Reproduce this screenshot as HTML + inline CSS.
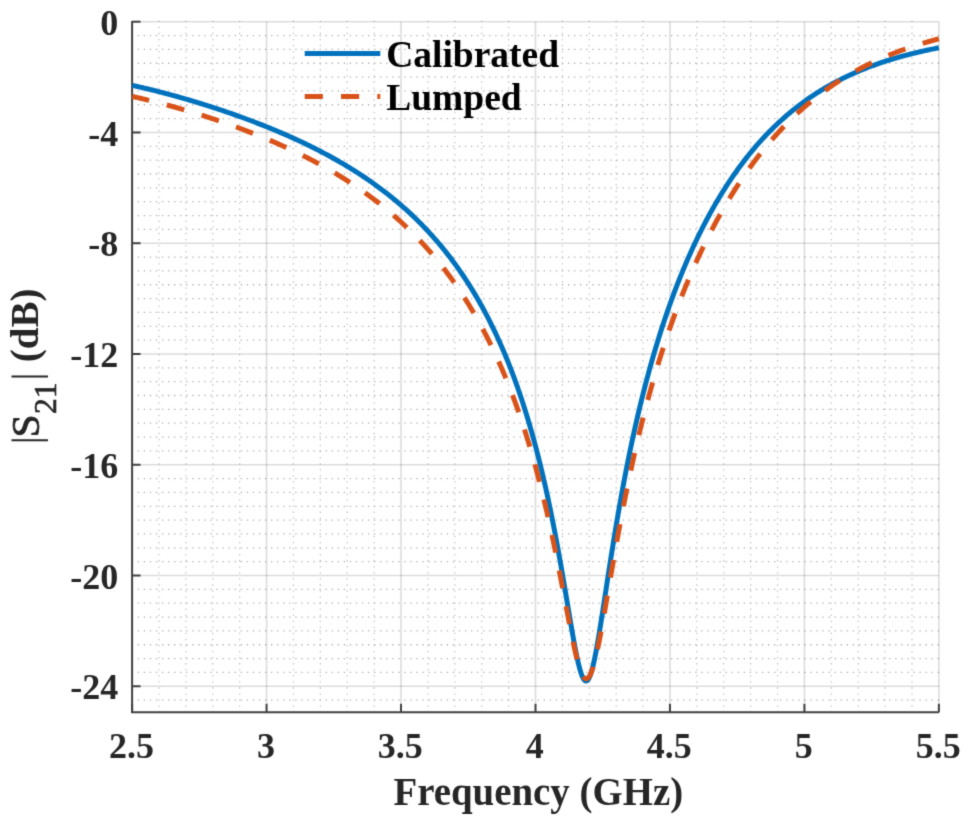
<!DOCTYPE html>
<html><head><meta charset="utf-8"><style>
html,body{margin:0;padding:0;background:#fff;width:968px;height:821px;overflow:hidden}
svg{display:block}
</style></head><body>
<svg width="968" height="821" viewBox="0 0 968 821">
<defs><filter id="soft" color-interpolation-filters="sRGB" x="0" y="0" width="100%" height="100%" filterUnits="userSpaceOnUse"><feConvolveMatrix order="3" kernelMatrix="0.01917 0.10012 0.01917 0.10012 0.52283 0.10012 0.01917 0.10012 0.01917" edgeMode="duplicate" preserveAlpha="true"/></filter></defs>
<rect width="968" height="821" fill="#fff"/>
<g filter="url(#soft)">
<rect width="968" height="821" fill="#fff"/>
<g stroke="#c2c2c2" stroke-width="1.3" stroke-dasharray="1.3 4.76" fill="none"><line x1="158.99" y1="20.75" x2="158.99" y2="712.3"/><line x1="185.89" y1="20.75" x2="185.89" y2="712.3"/><line x1="212.78" y1="20.75" x2="212.78" y2="712.3"/><line x1="239.67" y1="20.75" x2="239.67" y2="712.3"/><line x1="293.46" y1="20.75" x2="293.46" y2="712.3"/><line x1="320.35" y1="20.75" x2="320.35" y2="712.3"/><line x1="347.24" y1="20.75" x2="347.24" y2="712.3"/><line x1="374.14" y1="20.75" x2="374.14" y2="712.3"/><line x1="427.92" y1="20.75" x2="427.92" y2="712.3"/><line x1="454.82" y1="20.75" x2="454.82" y2="712.3"/><line x1="481.71" y1="20.75" x2="481.71" y2="712.3"/><line x1="508.60" y1="20.75" x2="508.60" y2="712.3"/><line x1="562.39" y1="20.75" x2="562.39" y2="712.3"/><line x1="589.28" y1="20.75" x2="589.28" y2="712.3"/><line x1="616.17" y1="20.75" x2="616.17" y2="712.3"/><line x1="643.07" y1="20.75" x2="643.07" y2="712.3"/><line x1="696.85" y1="20.75" x2="696.85" y2="712.3"/><line x1="723.75" y1="20.75" x2="723.75" y2="712.3"/><line x1="750.64" y1="20.75" x2="750.64" y2="712.3"/><line x1="777.53" y1="20.75" x2="777.53" y2="712.3"/><line x1="831.32" y1="20.75" x2="831.32" y2="712.3"/><line x1="858.21" y1="20.75" x2="858.21" y2="712.3"/><line x1="885.10" y1="20.75" x2="885.10" y2="712.3"/><line x1="912.00" y1="20.75" x2="912.00" y2="712.3"/></g>
<g stroke="#b0b0b0" stroke-width="1.3" stroke-dasharray="1.3 4.76" fill="none"><line x1="131.65" y1="35.55" x2="938.89" y2="35.55"/><line x1="131.65" y1="49.39" x2="938.89" y2="49.39"/><line x1="131.65" y1="63.23" x2="938.89" y2="63.23"/><line x1="131.65" y1="77.08" x2="938.89" y2="77.08"/><line x1="131.65" y1="90.93" x2="938.89" y2="90.93"/><line x1="131.65" y1="104.77" x2="938.89" y2="104.77"/><line x1="131.65" y1="118.62" x2="938.89" y2="118.62"/><line x1="131.65" y1="146.31" x2="938.89" y2="146.31"/><line x1="131.65" y1="160.15" x2="938.89" y2="160.15"/><line x1="131.65" y1="174.00" x2="938.89" y2="174.00"/><line x1="131.65" y1="187.84" x2="938.89" y2="187.84"/><line x1="131.65" y1="201.69" x2="938.89" y2="201.69"/><line x1="131.65" y1="215.53" x2="938.89" y2="215.53"/><line x1="131.65" y1="229.38" x2="938.89" y2="229.38"/><line x1="131.65" y1="257.06" x2="938.89" y2="257.06"/><line x1="131.65" y1="270.91" x2="938.89" y2="270.91"/><line x1="131.65" y1="284.75" x2="938.89" y2="284.75"/><line x1="131.65" y1="298.60" x2="938.89" y2="298.60"/><line x1="131.65" y1="312.44" x2="938.89" y2="312.44"/><line x1="131.65" y1="326.29" x2="938.89" y2="326.29"/><line x1="131.65" y1="340.13" x2="938.89" y2="340.13"/><line x1="131.65" y1="367.82" x2="938.89" y2="367.82"/><line x1="131.65" y1="381.67" x2="938.89" y2="381.67"/><line x1="131.65" y1="395.51" x2="938.89" y2="395.51"/><line x1="131.65" y1="409.36" x2="938.89" y2="409.36"/><line x1="131.65" y1="423.20" x2="938.89" y2="423.20"/><line x1="131.65" y1="437.05" x2="938.89" y2="437.05"/><line x1="131.65" y1="450.89" x2="938.89" y2="450.89"/><line x1="131.65" y1="478.59" x2="938.89" y2="478.59"/><line x1="131.65" y1="492.43" x2="938.89" y2="492.43"/><line x1="131.65" y1="506.28" x2="938.89" y2="506.28"/><line x1="131.65" y1="520.12" x2="938.89" y2="520.12"/><line x1="131.65" y1="533.97" x2="938.89" y2="533.97"/><line x1="131.65" y1="547.81" x2="938.89" y2="547.81"/><line x1="131.65" y1="561.66" x2="938.89" y2="561.66"/><line x1="131.65" y1="589.35" x2="938.89" y2="589.35"/><line x1="131.65" y1="603.19" x2="938.89" y2="603.19"/><line x1="131.65" y1="617.04" x2="938.89" y2="617.04"/><line x1="131.65" y1="630.88" x2="938.89" y2="630.88"/><line x1="131.65" y1="644.73" x2="938.89" y2="644.73"/><line x1="131.65" y1="658.57" x2="938.89" y2="658.57"/><line x1="131.65" y1="672.42" x2="938.89" y2="672.42"/><line x1="131.65" y1="700.11" x2="938.89" y2="700.11"/></g>
<g stroke="#262626" stroke-opacity="0.16" stroke-width="1.6" fill="none"><line x1="266.56" y1="21.7" x2="266.56" y2="712.3"/><line x1="401.03" y1="21.7" x2="401.03" y2="712.3"/><line x1="535.50" y1="21.7" x2="535.50" y2="712.3"/><line x1="669.96" y1="21.7" x2="669.96" y2="712.3"/><line x1="804.43" y1="21.7" x2="804.43" y2="712.3"/><line x1="938.89" y1="21.7" x2="938.89" y2="712.3"/><line x1="132.1" y1="21.70" x2="938.89" y2="21.70"/><line x1="132.1" y1="132.46" x2="938.89" y2="132.46"/><line x1="132.1" y1="243.22" x2="938.89" y2="243.22"/><line x1="132.1" y1="353.98" x2="938.89" y2="353.98"/><line x1="132.1" y1="464.74" x2="938.89" y2="464.74"/><line x1="132.1" y1="575.50" x2="938.89" y2="575.50"/><line x1="132.1" y1="686.26" x2="938.89" y2="686.26"/></g>
<g stroke="#404040" stroke-width="2" fill="none"><line x1="132.1" y1="20.9" x2="132.1" y2="713.0999999999999"/><line x1="131.29999999999998" y1="712.3" x2="938.89" y2="712.3"/><line x1="132.1" y1="21.70" x2="140.6" y2="21.70"/><line x1="132.1" y1="132.46" x2="140.6" y2="132.46"/><line x1="132.1" y1="243.22" x2="140.6" y2="243.22"/><line x1="132.1" y1="353.98" x2="140.6" y2="353.98"/><line x1="132.1" y1="464.74" x2="140.6" y2="464.74"/><line x1="132.1" y1="575.50" x2="140.6" y2="575.50"/><line x1="132.1" y1="686.26" x2="140.6" y2="686.26"/><line x1="132.10" y1="712.3" x2="132.10" y2="703.8"/><line x1="266.56" y1="712.3" x2="266.56" y2="703.8"/><line x1="401.03" y1="712.3" x2="401.03" y2="703.8"/><line x1="535.50" y1="712.3" x2="535.50" y2="703.8"/><line x1="669.96" y1="712.3" x2="669.96" y2="703.8"/><line x1="804.43" y1="712.3" x2="804.43" y2="703.8"/><line x1="938.89" y1="712.3" x2="938.89" y2="703.8"/></g>
<path d="M132.10,85.30 L133.44,85.60 L134.79,85.90 L136.13,86.20 L137.48,86.51 L138.82,86.82 L140.17,87.13 L141.51,87.44 L142.86,87.75 L144.20,88.07 L145.55,88.39 L146.89,88.72 L148.24,89.04 L149.58,89.37 L150.93,89.70 L152.27,90.03 L153.61,90.36 L154.96,90.70 L156.30,91.04 L157.65,91.38 L158.99,91.73 L160.34,92.07 L161.68,92.42 L163.03,92.77 L164.37,93.12 L165.72,93.48 L167.06,93.84 L168.41,94.20 L169.75,94.56 L171.09,94.92 L172.44,95.29 L173.78,95.66 L175.13,96.03 L176.47,96.40 L177.82,96.78 L179.16,97.16 L180.51,97.54 L181.85,97.92 L183.20,98.30 L184.54,98.69 L185.89,99.08 L187.23,99.47 L188.58,99.87 L189.92,100.26 L191.26,100.66 L192.61,101.06 L193.95,101.46 L195.30,101.87 L196.64,102.28 L197.99,102.68 L199.33,103.10 L200.68,103.51 L202.02,103.93 L203.37,104.35 L204.71,104.77 L206.06,105.19 L207.40,105.61 L208.75,106.04 L210.09,106.47 L211.43,106.90 L212.78,107.34 L214.12,107.78 L215.47,108.21 L216.81,108.66 L218.16,109.10 L219.50,109.55 L220.85,110.00 L222.19,110.45 L223.54,110.90 L224.88,111.36 L226.23,111.81 L227.57,112.27 L228.91,112.74 L230.26,113.20 L231.60,113.67 L232.95,114.14 L234.29,114.61 L235.64,115.09 L236.98,115.57 L238.33,116.05 L239.67,116.53 L241.02,117.02 L242.36,117.50 L243.71,118.00 L245.05,118.49 L246.40,118.98 L247.74,119.48 L249.08,119.98 L250.43,120.49 L251.77,121.00 L253.12,121.51 L254.46,122.02 L255.81,122.53 L257.15,123.05 L258.50,123.57 L259.84,124.10 L261.19,124.62 L262.53,125.15 L263.88,125.69 L265.22,126.22 L266.56,126.76 L267.91,127.30 L269.25,127.85 L270.60,128.40 L271.94,128.95 L273.29,129.50 L274.63,130.06 L275.98,130.62 L277.32,131.19 L278.67,131.76 L280.01,132.33 L281.36,132.90 L282.70,133.48 L284.05,134.06 L285.39,134.65 L286.73,135.24 L288.08,135.83 L289.42,136.42 L290.77,137.02 L292.11,137.63 L293.46,138.24 L294.80,138.85 L296.15,139.46 L297.49,140.08 L298.84,140.71 L300.18,141.33 L301.53,141.96 L302.87,142.60 L304.22,143.24 L305.56,143.88 L306.90,144.53 L308.25,145.19 L309.59,145.84 L310.94,146.50 L312.28,147.17 L313.63,147.84 L314.97,148.52 L316.32,149.20 L317.66,149.88 L319.01,150.57 L320.35,151.27 L321.70,151.97 L323.04,152.67 L324.38,153.38 L325.73,154.10 L327.07,154.82 L328.42,155.54 L329.76,156.27 L331.11,157.01 L332.45,157.75 L333.80,158.50 L335.14,159.25 L336.49,160.01 L337.83,160.78 L339.18,161.55 L340.52,162.33 L341.87,163.11 L343.21,163.90 L344.55,164.70 L345.90,165.50 L347.24,166.31 L348.59,167.12 L349.93,167.94 L351.28,168.77 L352.62,169.61 L353.97,170.45 L355.31,171.30 L356.66,172.15 L358.00,173.02 L359.35,173.89 L360.69,174.77 L362.04,175.65 L363.38,176.55 L364.72,177.45 L366.07,178.36 L367.41,179.27 L368.76,180.20 L370.10,181.13 L371.45,182.07 L372.79,183.02 L374.14,183.98 L375.48,184.95 L376.83,185.93 L378.17,186.91 L379.52,187.91 L380.86,188.91 L382.20,189.92 L383.55,190.95 L384.89,191.98 L386.24,193.02 L387.58,194.07 L388.93,195.13 L390.27,196.21 L391.62,197.29 L392.96,198.38 L394.31,199.49 L395.65,200.60 L397.00,201.73 L398.34,202.86 L399.69,204.01 L401.03,205.17 L402.37,206.35 L403.72,207.53 L405.06,208.73 L406.41,209.94 L407.75,211.16 L409.10,212.39 L410.44,213.64 L411.79,214.90 L413.13,216.17 L414.48,217.46 L415.82,218.76 L417.17,220.08 L418.51,221.41 L419.86,222.75 L421.20,224.11 L422.54,225.48 L423.89,226.87 L425.23,228.28 L426.58,229.70 L427.92,231.14 L429.27,232.59 L430.61,234.06 L431.96,235.55 L433.30,237.05 L434.65,238.57 L435.99,240.11 L437.34,241.67 L438.68,243.25 L440.02,244.85 L441.37,246.46 L442.71,248.10 L444.06,249.75 L445.40,251.43 L446.75,253.12 L448.09,254.84 L449.44,256.58 L450.78,258.34 L452.13,260.13 L453.47,261.93 L454.82,263.76 L456.16,265.62 L457.51,267.49 L458.85,269.40 L460.19,271.32 L461.54,273.28 L462.88,275.26 L464.23,277.26 L465.57,279.30 L466.92,281.36 L468.26,283.45 L469.61,285.57 L470.95,287.72 L472.30,289.90 L473.64,292.12 L474.99,294.36 L476.33,296.64 L477.68,298.95 L479.02,301.29 L480.36,303.67 L481.71,306.08 L483.05,308.53 L484.40,311.02 L485.74,313.55 L487.09,316.12 L488.43,318.72 L489.78,321.37 L491.12,324.06 L492.47,326.80 L493.81,329.57 L495.16,332.40 L496.50,335.27 L497.84,338.18 L499.19,341.15 L500.53,344.17 L501.88,347.24 L503.22,350.36 L504.57,353.54 L505.91,356.77 L507.26,360.07 L508.60,363.42 L508.60,363.42 L508.87,364.10 L509.14,364.78 L509.41,365.46 L509.68,366.14 L509.95,366.83 L509.95,366.83 L510.22,367.52 L510.48,368.21 L510.75,368.91 L511.02,369.61 L511.29,370.31 L511.29,370.31 L511.56,371.01 L511.83,371.72 L512.10,372.42 L512.37,373.13 L512.64,373.85 L512.90,374.56 L513.17,375.28 L513.44,376.00 L513.71,376.73 L513.98,377.45 L514.25,378.18 L514.52,378.92 L514.79,379.65 L515.06,380.39 L515.33,381.13 L515.59,381.87 L515.86,382.62 L516.13,383.37 L516.40,384.12 L516.67,384.88 L516.94,385.64 L517.21,386.40 L517.48,387.16 L517.75,387.93 L518.01,388.70 L518.28,389.47 L518.55,390.25 L518.82,391.02 L519.09,391.81 L519.36,392.59 L519.63,393.38 L519.90,394.17 L520.17,394.97 L520.43,395.76 L520.70,396.56 L520.70,396.56 L520.97,397.37 L521.24,398.17 L521.51,398.99 L521.78,399.80 L522.05,400.62 L522.05,400.62 L522.32,401.44 L522.59,402.26 L522.86,403.09 L523.12,403.92 L523.39,404.75 L523.66,405.59 L523.93,406.43 L524.20,407.27 L524.47,408.12 L524.74,408.97 L525.01,409.82 L525.28,410.68 L525.54,411.54 L525.81,412.41 L526.08,413.28 L526.35,414.15 L526.62,415.02 L526.89,415.90 L527.16,416.79 L527.43,417.67 L527.70,418.56 L527.96,419.46 L528.23,420.36 L528.50,421.26 L528.77,422.16 L529.04,423.07 L529.31,423.99 L529.58,424.90 L529.85,425.82 L530.12,426.75 L530.39,427.68 L530.65,428.61 L530.92,429.55 L531.19,430.49 L531.46,431.44 L531.46,431.44 L531.73,432.38 L532.00,433.34 L532.27,434.30 L532.54,435.26 L532.81,436.22 L532.81,436.22 L533.07,437.19 L533.34,438.17 L533.61,439.15 L533.88,440.13 L534.15,441.12 L534.42,442.11 L534.69,443.11 L534.96,444.11 L535.23,445.11 L535.50,446.12 L535.76,447.13 L536.03,448.15 L536.30,449.18 L536.57,450.20 L536.84,451.24 L537.11,452.27 L537.38,453.31 L537.65,454.36 L537.92,455.41 L538.18,456.47 L538.45,457.53 L538.72,458.59 L538.99,459.66 L539.26,460.74 L539.53,461.82 L539.53,461.82 L539.80,462.90 L540.07,463.99 L540.34,465.09 L540.60,466.19 L540.87,467.29 L541.14,468.40 L541.41,469.52 L541.68,470.64 L541.95,471.76 L542.22,472.89 L542.49,474.03 L542.76,475.17 L543.03,476.32 L543.29,477.47 L543.56,478.62 L543.83,479.79 L544.10,480.95 L544.37,482.13 L544.64,483.31 L544.91,484.49 L545.18,485.68 L545.45,486.87 L545.71,488.08 L545.98,489.28 L546.25,490.49 L546.52,491.71 L546.79,492.93 L547.06,494.16 L547.33,495.40 L547.60,496.64 L547.87,497.88 L548.13,499.13 L548.40,500.39 L548.67,501.66 L548.94,502.92 L549.21,504.20 L549.48,505.48 L549.75,506.77 L550.02,508.06 L550.29,509.36 L550.56,510.66 L550.82,511.97 L551.09,513.29 L551.36,514.61 L551.63,515.94 L551.63,515.94 L551.90,517.28 L552.17,518.62 L552.44,519.96 L552.71,521.32 L552.98,522.68 L553.24,524.04 L553.51,525.41 L553.78,526.79 L554.05,528.17 L554.32,529.56 L554.59,530.96 L554.86,532.36 L555.13,533.76 L555.40,535.18 L555.66,536.60 L555.93,538.02 L556.20,539.45 L556.47,540.89 L556.74,542.33 L557.01,543.78 L557.28,545.24 L557.55,546.70 L557.82,548.16 L558.09,549.64 L558.35,551.11 L558.62,552.60 L558.89,554.09 L559.16,555.58 L559.43,557.08 L559.70,558.59 L559.97,560.10 L560.24,561.61 L560.51,563.14 L560.77,564.66 L561.04,566.19 L561.31,567.73 L561.58,569.27 L561.85,570.82 L562.12,572.37 L562.39,573.92 L562.66,575.48 L562.93,577.05 L563.19,578.61 L563.46,580.19 L563.73,581.76 L563.73,581.76 L564.00,583.34 L564.27,584.92 L564.54,586.51 L564.81,588.09 L565.08,589.69 L565.35,591.28 L565.62,592.88 L565.88,594.47 L566.15,596.07 L566.42,597.67 L566.69,599.28 L566.96,600.88 L567.23,602.48 L567.50,604.09 L567.77,605.69 L568.04,607.30 L568.30,608.90 L568.57,610.50 L568.84,612.10 L569.11,613.70 L569.38,615.30 L569.65,616.89 L569.92,618.48 L570.19,620.07 L570.46,621.65 L570.72,623.23 L570.99,624.80 L571.26,626.37 L571.53,627.93 L571.80,629.48 L572.07,631.03 L572.34,632.57 L572.61,634.10 L572.88,635.62 L573.15,637.13 L573.15,637.13 L573.41,638.63 L573.68,640.11 L573.95,641.59 L574.22,643.05 L574.49,644.50 L574.76,645.93 L575.03,647.35 L575.30,648.75 L575.57,650.13 L575.83,651.50 L576.10,652.85 L576.37,654.17 L576.64,655.48 L576.91,656.77 L577.18,658.03 L577.45,659.27 L577.72,660.48 L577.99,661.67 L578.25,662.83 L578.52,663.97 L578.79,665.08 L579.06,666.15 L579.33,667.20 L579.60,668.22 L579.87,669.20 L580.14,670.15 L580.41,671.07 L580.68,671.95 L580.94,672.79 L581.21,673.60 L581.48,674.37 L581.75,675.10 L582.02,675.79 L582.29,676.44 L582.56,677.06 L582.83,677.62 L583.10,678.15 L583.36,678.63 L583.63,679.07 L583.90,679.47 L584.17,679.82 L584.44,680.12 L584.71,680.38 L584.98,680.59 L585.25,680.76 L585.25,680.76 L585.52,680.88 L585.78,680.95 L586.05,680.97 L586.32,680.95 L586.59,680.88 L586.59,680.88 L586.86,680.76 L587.13,680.59 L587.40,680.38 L587.67,680.12 L587.94,679.81 L588.21,679.46 L588.47,679.06 L588.74,678.61 L589.01,678.12 L589.28,677.58 L589.55,677.00 L589.82,676.37 L590.09,675.70 L590.36,674.99 L590.63,674.24 L590.89,673.44 L591.16,672.60 L591.43,671.73 L591.70,670.81 L591.97,669.86 L592.24,668.87 L592.51,667.84 L592.78,666.78 L593.05,665.68 L593.31,664.55 L593.58,663.39 L593.85,662.20 L594.12,660.97 L594.39,659.72 L594.66,658.43 L594.93,657.12 L595.20,655.78 L595.47,654.42 L595.74,653.03 L596.00,651.62 L596.27,650.18 L596.54,648.72 L596.81,647.25 L597.08,645.75 L597.35,644.23 L597.62,642.69 L597.89,641.14 L598.16,639.57 L598.42,637.98 L598.69,636.38 L598.96,634.77 L599.23,633.14 L599.50,631.50 L599.77,629.85 L600.04,628.18 L600.31,626.51 L600.58,624.82 L600.84,623.13 L601.11,621.43 L601.38,619.72 L601.65,618.00 L601.92,616.28 L602.19,614.55 L602.46,612.82 L602.73,611.08 L603.00,609.34 L603.27,607.59 L603.53,605.84 L603.80,604.09 L604.07,602.33 L604.34,600.57 L604.61,598.82 L604.88,597.06 L605.15,595.29 L605.42,593.53 L605.69,591.77 L605.95,590.01 L606.22,588.25 L606.49,586.49 L606.76,584.73 L606.76,584.73 L607.03,582.97 L607.30,581.22 L607.57,579.47 L607.84,577.72 L608.11,575.97 L608.38,574.22 L608.64,572.48 L608.91,570.74 L609.18,569.00 L609.45,567.27 L609.72,565.54 L609.99,563.82 L610.26,562.09 L610.53,560.38 L610.80,558.66 L611.06,556.96 L611.33,555.25 L611.60,553.55 L611.87,551.86 L612.14,550.17 L612.41,548.49 L612.68,546.81 L612.95,545.14 L613.22,543.47 L613.48,541.80 L613.75,540.15 L614.02,538.49 L614.29,536.85 L614.56,535.21 L614.83,533.57 L615.10,531.94 L615.37,530.32 L615.64,528.70 L615.91,527.09 L616.17,525.49 L616.44,523.89 L616.71,522.29 L616.98,520.71 L617.25,519.12 L617.52,517.55 L617.79,515.98 L618.06,514.42 L618.33,512.86 L618.59,511.31 L618.86,509.76 L618.86,509.76 L619.13,508.22 L619.40,506.69 L619.67,505.16 L619.94,503.64 L620.21,502.13 L620.21,502.13 L620.48,500.62 L620.75,499.12 L621.01,497.62 L621.28,496.14 L621.55,494.65 L621.82,493.17 L622.09,491.70 L622.36,490.24 L622.63,488.78 L622.90,487.33 L623.17,485.88 L623.44,484.44 L623.70,483.00 L623.97,481.57 L624.24,480.15 L624.51,478.73 L624.78,477.32 L625.05,475.92 L625.32,474.52 L625.59,473.12 L625.86,471.74 L626.12,470.36 L626.39,468.98 L626.66,467.61 L626.93,466.25 L627.20,464.89 L627.47,463.53 L627.74,462.19 L628.01,460.84 L628.28,459.51 L628.54,458.18 L628.81,456.85 L629.08,455.53 L629.35,454.22 L629.62,452.91 L629.89,451.61 L630.16,450.31 L630.43,449.02 L630.70,447.73 L630.97,446.45 L631.23,445.18 L631.50,443.90 L631.77,442.64 L632.04,441.38 L632.31,440.12 L632.58,438.87 L632.85,437.63 L633.12,436.39 L633.39,435.16 L633.65,433.93 L633.92,432.70 L634.19,431.48 L634.46,430.27 L634.73,429.06 L635.00,427.85 L635.27,426.65 L635.54,425.46 L635.81,424.27 L636.07,423.08 L636.34,421.90 L636.61,420.73 L636.88,419.56 L637.15,418.39 L637.42,417.23 L637.69,416.07 L637.96,414.92 L638.23,413.77 L638.50,412.63 L638.76,411.49 L639.03,410.36 L639.30,409.23 L639.57,408.10 L639.84,406.98 L640.11,405.87 L640.38,404.76 L640.38,404.76 L640.65,403.65 L640.92,402.55 L641.18,401.45 L641.45,400.35 L641.72,399.26 L641.99,398.18 L642.26,397.09 L642.53,396.02 L642.80,394.94 L643.07,393.87 L643.34,392.81 L643.60,391.75 L643.87,390.69 L644.14,389.64 L644.41,388.59 L644.68,387.54 L644.95,386.50 L645.22,385.46 L645.49,384.43 L645.76,383.40 L646.03,382.38 L646.29,381.35 L646.56,380.34 L646.83,379.32 L647.10,378.31 L647.37,377.31 L647.64,376.30 L647.91,375.30 L648.18,374.31 L648.45,373.32 L648.71,372.33 L648.98,371.34 L649.25,370.36 L649.52,369.39 L649.79,368.41 L650.06,367.44 L650.33,366.48 L650.60,365.51 L650.87,364.55 L651.13,363.60 L651.40,362.64 L651.67,361.69 L651.94,360.75 L652.21,359.81 L652.48,358.87 L652.75,357.93 L653.02,357.00 L653.29,356.07 L653.56,355.14 L653.82,354.22 L653.82,354.22 L654.09,353.30 L654.36,352.39 L654.63,351.47 L654.90,350.56 L655.17,349.66 L655.44,348.75 L655.71,347.85 L655.98,346.96 L656.24,346.06 L656.51,345.17 L656.78,344.28 L657.05,343.40 L657.32,342.52 L657.59,341.64 L657.86,340.76 L658.13,339.89 L658.40,339.02 L658.66,338.16 L658.93,337.29 L659.20,336.43 L659.47,335.57 L659.74,334.72 L660.01,333.87 L660.28,333.02 L660.55,332.17 L660.82,331.33 L661.09,330.49 L661.35,329.65 L661.62,328.81 L661.89,327.98 L662.16,327.15 L662.43,326.33 L662.70,325.50 L662.97,324.68 L663.24,323.86 L663.51,323.05 L663.77,322.23 L664.04,321.42 L664.31,320.62 L664.58,319.81 L664.85,319.01 L665.12,318.21 L665.39,317.41 L665.66,316.62 L665.93,315.83 L666.19,315.04 L666.46,314.25 L666.73,313.46 L667.00,312.68 L667.27,311.90 L667.54,311.13 L667.81,310.35 L668.08,309.58 L668.35,308.81 L668.62,308.04 L668.88,307.28 L669.15,306.52 L669.42,305.76 L669.69,305.00 L669.96,304.25 L671.30,300.51 L672.65,296.83 L673.99,293.21 L675.34,289.64 L676.68,286.12 L678.03,282.67 L679.37,279.26 L680.72,275.90 L682.06,272.59 L683.41,269.33 L684.75,266.12 L686.10,262.96 L687.44,259.84 L688.79,256.77 L690.13,253.74 L691.47,250.75 L692.82,247.81 L694.16,244.91 L695.51,242.05 L696.85,239.22 L698.20,236.44 L699.54,233.70 L700.89,230.99 L702.23,228.32 L703.58,225.69 L704.92,223.10 L706.27,220.53 L707.61,218.01 L708.95,215.52 L710.30,213.06 L711.64,210.63 L712.99,208.24 L714.33,205.88 L715.68,203.55 L717.02,201.25 L718.37,198.98 L719.71,196.74 L721.06,194.54 L722.40,192.36 L723.75,190.21 L725.09,188.08 L726.44,185.99 L727.78,183.92 L729.12,181.88 L730.47,179.87 L731.81,177.88 L733.16,175.92 L734.50,173.99 L735.85,172.08 L737.19,170.19 L738.54,168.33 L739.88,166.50 L741.23,164.68 L742.57,162.89 L743.92,161.13 L745.26,159.38 L746.61,157.66 L747.95,155.97 L749.29,154.29 L750.64,152.64 L751.98,151.00 L753.33,149.39 L754.67,147.80 L756.02,146.23 L757.36,144.68 L758.71,143.15 L760.05,141.64 L761.40,140.15 L762.74,138.68 L764.09,137.23 L765.43,135.79 L766.77,134.38 L768.12,132.98 L769.46,131.61 L770.81,130.25 L772.15,128.90 L773.50,127.58 L774.84,126.27 L776.19,124.98 L777.53,123.71 L778.88,122.45 L780.22,121.21 L781.57,119.98 L782.91,118.78 L784.26,117.58 L785.60,116.41 L786.94,115.24 L788.29,114.10 L789.63,112.97 L790.98,111.85 L792.32,110.75 L793.67,109.66 L795.01,108.59 L796.36,107.53 L797.70,106.48 L799.05,105.45 L800.39,104.43 L801.74,103.43 L803.08,102.44 L804.43,101.46 L805.77,100.49 L807.11,99.54 L808.46,98.60 L809.80,97.67 L811.15,96.76 L812.49,95.86 L813.84,94.96 L815.18,94.08 L816.53,93.22 L817.87,92.36 L819.22,91.52 L820.56,90.68 L821.91,89.86 L823.25,89.05 L824.59,88.25 L825.94,87.46 L827.28,86.68 L828.63,85.91 L829.97,85.15 L831.32,84.40 L832.66,83.66 L834.01,82.93 L835.35,82.21 L836.70,81.50 L838.04,80.80 L839.39,80.11 L840.73,79.43 L842.08,78.75 L843.42,78.09 L844.76,77.44 L846.11,76.79 L847.45,76.15 L848.80,75.52 L850.14,74.90 L851.49,74.29 L852.83,73.68 L854.18,73.09 L855.52,72.50 L856.87,71.92 L858.21,71.35 L859.56,70.78 L860.90,70.22 L862.24,69.67 L863.59,69.13 L864.93,68.59 L866.28,68.07 L867.62,67.54 L868.97,67.03 L870.31,66.52 L871.66,66.02 L873.00,65.53 L874.35,65.04 L875.69,64.56 L877.04,64.08 L878.38,63.61 L879.73,63.15 L881.07,62.69 L882.41,62.24 L883.76,61.80 L885.10,61.36 L886.45,60.93 L887.79,60.50 L889.14,60.08 L890.48,59.66 L891.83,59.25 L893.17,58.85 L894.52,58.45 L895.86,58.05 L897.21,57.66 L898.55,57.28 L899.90,56.90 L901.24,56.52 L902.58,56.15 L903.93,55.79 L905.27,55.43 L906.62,55.07 L907.96,54.72 L909.31,54.38 L910.65,54.04 L912.00,53.70 L913.34,53.36 L914.69,53.04 L916.03,52.71 L917.38,52.39 L918.72,52.07 L920.06,51.76 L921.41,51.45 L922.75,51.15 L924.10,50.85 L925.44,50.55 L926.79,50.26 L928.13,49.97 L929.48,49.68 L930.82,49.40 L932.17,49.12 L933.51,48.85 L934.86,48.58 L936.20,48.31 L937.55,48.04 L938.89,47.78" fill="none" stroke="#0072bd" stroke-width="5" stroke-linejoin="round"/>
<path d="M132.10,96.34 L133.44,96.65 L134.79,96.95 L136.13,97.26 L137.48,97.57 L138.82,97.89 L140.17,98.20 L141.51,98.52 L142.86,98.84 L144.20,99.17 L145.55,99.49 L146.89,99.82 L148.24,100.15 L149.58,100.48 L150.93,100.82 L152.27,101.16 L153.61,101.50 L154.96,101.84 L156.30,102.18 L157.65,102.53 L158.99,102.88 L160.34,103.23 L161.68,103.58 L163.03,103.94 L164.37,104.30 L165.72,104.66 L167.06,105.02 L168.41,105.39 L169.75,105.76 L171.09,106.13 L172.44,106.50 L173.78,106.88 L175.13,107.25 L176.47,107.63 L177.82,108.02 L179.16,108.40 L180.51,108.79 L181.85,109.18 L183.20,109.57 L184.54,109.96 L185.89,110.36 L187.23,110.76 L188.58,111.16 L189.92,111.56 L191.26,111.97 L192.61,112.38 L193.95,112.79 L195.30,113.20 L196.64,113.62 L197.99,114.04 L199.33,114.46 L200.68,114.88 L202.02,115.31 L203.37,115.73 L204.71,116.16 L206.06,116.60 L207.40,117.03 L208.75,117.47 L210.09,117.91 L211.43,118.35 L212.78,118.80 L214.12,119.24 L215.47,119.69 L216.81,120.15 L218.16,120.60 L219.50,121.06 L220.85,121.52 L222.19,121.99 L223.54,122.45 L224.88,122.92 L226.23,123.39 L227.57,123.86 L228.91,124.34 L230.26,124.82 L231.60,125.30 L232.95,125.79 L234.29,126.28 L235.64,126.77 L236.98,127.26 L238.33,127.75 L239.67,128.25 L241.02,128.76 L242.36,129.26 L243.71,129.77 L245.05,130.28 L246.40,130.79 L247.74,131.31 L249.08,131.83 L250.43,132.35 L251.77,132.88 L253.12,133.41 L254.46,133.94 L255.81,134.48 L257.15,135.01 L258.50,135.56 L259.84,136.10 L261.19,136.65 L262.53,137.20 L263.88,137.76 L265.22,138.32 L266.56,138.88 L267.91,139.44 L269.25,140.01 L270.60,140.59 L271.94,141.16 L273.29,141.74 L274.63,142.33 L275.98,142.91 L277.32,143.50 L278.67,144.10 L280.01,144.70 L281.36,145.30 L282.70,145.91 L284.05,146.52 L285.39,147.13 L286.73,147.75 L288.08,148.37 L289.42,149.00 L290.77,149.63 L292.11,150.27 L293.46,150.91 L294.80,151.55 L296.15,152.20 L297.49,152.85 L298.84,153.51 L300.18,154.17 L301.53,154.83 L302.87,155.51 L304.22,156.18 L305.56,156.86 L306.90,157.55 L308.25,158.24 L309.59,158.93 L310.94,159.63 L312.28,160.34 L313.63,161.05 L314.97,161.76 L316.32,162.48 L317.66,163.21 L319.01,163.94 L320.35,164.68 L321.70,165.42 L323.04,166.17 L324.38,166.92 L325.73,167.68 L327.07,168.44 L328.42,169.21 L329.76,169.99 L331.11,170.77 L332.45,171.56 L333.80,172.36 L335.14,173.16 L336.49,173.96 L337.83,174.78 L339.18,175.60 L340.52,176.42 L341.87,177.26 L343.21,178.10 L344.55,178.94 L345.90,179.80 L347.24,180.66 L348.59,181.52 L349.93,182.40 L351.28,183.28 L352.62,184.17 L353.97,185.06 L355.31,185.97 L356.66,186.88 L358.00,187.80 L359.35,188.73 L360.69,189.66 L362.04,190.60 L363.38,191.56 L364.72,192.51 L366.07,193.48 L367.41,194.46 L368.76,195.44 L370.10,196.44 L371.45,197.44 L372.79,198.45 L374.14,199.47 L375.48,200.50 L376.83,201.54 L378.17,202.58 L379.52,203.64 L380.86,204.71 L382.20,205.78 L383.55,206.87 L384.89,207.97 L386.24,209.08 L387.58,210.19 L388.93,211.32 L390.27,212.46 L391.62,213.61 L392.96,214.77 L394.31,215.94 L395.65,217.12 L397.00,218.32 L398.34,219.52 L399.69,220.74 L401.03,221.97 L402.37,223.21 L403.72,224.46 L405.06,225.73 L406.41,227.01 L407.75,228.30 L409.10,229.60 L410.44,230.92 L411.79,232.25 L413.13,233.60 L414.48,234.96 L415.82,236.33 L417.17,237.72 L418.51,239.12 L419.86,240.53 L421.20,241.96 L422.54,243.41 L423.89,244.87 L425.23,246.35 L426.58,247.84 L427.92,249.35 L429.27,250.88 L430.61,252.42 L431.96,253.98 L433.30,255.56 L434.65,257.16 L435.99,258.77 L437.34,260.40 L438.68,262.05 L440.02,263.72 L441.37,265.41 L442.71,267.11 L444.06,268.84 L445.40,270.59 L446.75,272.36 L448.09,274.15 L449.44,275.96 L450.78,277.79 L452.13,279.64 L453.47,281.52 L454.82,283.42 L456.16,285.34 L457.51,287.29 L458.85,289.26 L460.19,291.26 L461.54,293.28 L462.88,295.33 L464.23,297.40 L465.57,299.50 L466.92,301.63 L468.26,303.78 L469.61,305.97 L470.95,308.18 L472.30,310.42 L473.64,312.69 L474.99,315.00 L476.33,317.33 L477.68,319.70 L479.02,322.10 L480.36,324.54 L481.71,327.01 L483.05,329.51 L484.40,332.05 L485.74,334.63 L487.09,337.24 L488.43,339.90 L489.78,342.59 L491.12,345.32 L492.47,348.10 L493.81,350.92 L495.16,353.78 L496.50,356.68 L497.84,359.63 L499.19,362.63 L500.53,365.68 L501.88,368.77 L503.22,371.92 L504.57,375.11 L505.91,378.37 L507.26,381.67 L508.60,385.03 L508.60,385.03 L508.87,385.71 L509.14,386.39 L509.41,387.07 L509.68,387.76 L509.95,388.45 L509.95,388.45 L510.22,389.14 L510.48,389.83 L510.75,390.53 L511.02,391.23 L511.29,391.93 L511.29,391.93 L511.56,392.63 L511.83,393.33 L512.10,394.04 L512.37,394.75 L512.64,395.46 L512.90,396.18 L513.17,396.90 L513.44,397.62 L513.71,398.34 L513.98,399.06 L514.25,399.79 L514.52,400.52 L514.79,401.25 L515.06,401.99 L515.33,402.73 L515.59,403.47 L515.86,404.21 L516.13,404.96 L516.40,405.71 L516.67,406.46 L516.94,407.21 L517.21,407.97 L517.48,408.73 L517.75,409.49 L518.01,410.25 L518.28,411.02 L518.55,411.79 L518.82,412.57 L519.09,413.34 L519.36,414.12 L519.63,414.90 L519.90,415.69 L520.17,416.47 L520.43,417.27 L520.70,418.06 L520.70,418.06 L520.97,418.86 L521.24,419.65 L521.51,420.46 L521.78,421.26 L522.05,422.07 L522.05,422.07 L522.32,422.88 L522.59,423.70 L522.86,424.51 L523.12,425.33 L523.39,426.16 L523.66,426.98 L523.93,427.81 L524.20,428.65 L524.47,429.48 L524.74,430.32 L525.01,431.16 L525.28,432.01 L525.54,432.86 L525.81,433.71 L526.08,434.57 L526.35,435.42 L526.62,436.29 L526.89,437.15 L527.16,438.02 L527.43,438.89 L527.70,439.77 L527.96,440.65 L528.23,441.53 L528.50,442.41 L528.77,443.30 L529.04,444.20 L529.31,445.09 L529.58,445.99 L529.85,446.89 L530.12,447.80 L530.39,448.71 L530.65,449.62 L530.92,450.54 L531.19,451.46 L531.46,452.39 L531.46,452.39 L531.73,453.31 L532.00,454.25 L532.27,455.18 L532.54,456.12 L532.81,457.06 L532.81,457.06 L533.07,458.01 L533.34,458.96 L533.61,459.92 L533.88,460.87 L534.15,461.84 L534.42,462.80 L534.69,463.77 L534.96,464.75 L535.23,465.72 L535.50,466.71 L535.76,467.69 L536.03,468.68 L536.30,469.67 L536.57,470.67 L536.84,471.67 L537.11,472.68 L537.38,473.69 L537.65,474.70 L537.92,475.72 L538.18,476.74 L538.45,477.77 L538.72,478.80 L538.99,479.83 L539.26,480.87 L539.53,481.91 L539.53,481.91 L539.80,482.96 L540.07,484.01 L540.34,485.07 L540.60,486.13 L540.87,487.19 L541.14,488.26 L541.41,489.34 L541.68,490.41 L541.95,491.50 L542.22,492.58 L542.49,493.67 L542.76,494.77 L543.03,495.87 L543.29,496.97 L543.56,498.08 L543.83,499.19 L544.10,500.31 L544.37,501.43 L544.64,502.56 L544.91,503.69 L545.18,504.83 L545.45,505.97 L545.71,507.11 L545.98,508.26 L546.25,509.42 L546.52,510.58 L546.79,511.74 L547.06,512.91 L547.33,514.08 L547.60,515.26 L547.87,516.44 L548.13,517.63 L548.40,518.82 L548.67,520.02 L548.94,521.22 L549.21,522.42 L549.48,523.63 L549.75,524.85 L550.02,526.07 L550.29,527.29 L550.56,528.52 L550.82,529.76 L551.09,531.00 L551.36,532.24 L551.63,533.49 L551.63,533.49 L551.90,534.74 L552.17,536.00 L552.44,537.26 L552.71,538.53 L552.98,539.80 L553.24,541.07 L553.51,542.35 L553.78,543.64 L554.05,544.93 L554.32,546.22 L554.59,547.52 L554.86,548.82 L555.13,550.13 L555.40,551.44 L555.66,552.76 L555.93,554.08 L556.20,555.40 L556.47,556.73 L556.74,558.06 L557.01,559.40 L557.28,560.74 L557.55,562.09 L557.82,563.44 L558.09,564.79 L558.35,566.14 L558.62,567.50 L558.89,568.87 L559.16,570.24 L559.43,571.61 L559.70,572.98 L559.97,574.36 L560.24,575.74 L560.51,577.12 L560.77,578.51 L561.04,579.90 L561.31,581.29 L561.58,582.69 L561.85,584.08 L562.12,585.48 L562.39,586.88 L562.66,588.29 L562.93,589.69 L563.19,591.10 L563.46,592.51 L563.73,593.92 L563.73,593.92 L564.00,595.33 L564.27,596.75 L564.54,598.16 L564.81,599.57 L565.08,600.99 L565.35,602.40 L565.62,603.82 L565.88,605.23 L566.15,606.65 L566.42,608.06 L566.69,609.47 L566.96,610.88 L567.23,612.29 L567.50,613.70 L567.77,615.10 L568.04,616.50 L568.30,617.90 L568.57,619.30 L568.84,620.69 L569.11,622.08 L569.38,623.46 L569.65,624.84 L569.92,626.22 L570.19,627.58 L570.46,628.95 L570.72,630.30 L570.99,631.65 L571.26,632.99 L571.53,634.33 L571.80,635.66 L572.07,636.97 L572.34,638.28 L572.61,639.58 L572.88,640.87 L573.15,642.15 L573.15,642.15 L573.41,643.41 L573.68,644.67 L573.95,645.91 L574.22,647.14 L574.49,648.35 L574.76,649.55 L575.03,650.74 L575.30,651.91 L575.57,653.07 L575.83,654.20 L576.10,655.32 L576.37,656.43 L576.64,657.51 L576.91,658.58 L577.18,659.62 L577.45,660.64 L577.72,661.65 L577.99,662.63 L578.25,663.58 L578.52,664.52 L578.79,665.43 L579.06,666.31 L579.33,667.17 L579.60,668.01 L579.87,668.82 L580.14,669.60 L580.41,670.35 L580.68,671.07 L580.94,671.77 L581.21,672.43 L581.48,673.06 L581.75,673.67 L582.02,674.24 L582.29,674.78 L582.56,675.28 L582.83,675.76 L583.10,676.20 L583.36,676.60 L583.63,676.98 L583.90,677.31 L584.17,677.61 L584.44,677.88 L584.71,678.11 L584.98,678.31 L585.25,678.46 L585.25,678.46 L585.52,678.58 L585.78,678.67 L586.05,678.72 L586.32,678.73 L586.59,678.70 L586.59,678.70 L586.86,678.64 L587.13,678.54 L587.40,678.40 L587.67,678.22 L587.94,678.01 L588.21,677.76 L588.47,677.48 L588.74,677.16 L589.01,676.80 L589.28,676.40 L589.55,675.97 L589.82,675.51 L590.09,675.01 L590.36,674.47 L590.63,673.90 L590.89,673.30 L591.16,672.66 L591.43,671.99 L591.70,671.29 L591.97,670.56 L592.24,669.79 L592.51,669.00 L592.78,668.17 L593.05,667.31 L593.31,666.43 L593.58,665.52 L593.85,664.57 L594.12,663.61 L594.39,662.61 L594.66,661.59 L594.93,660.55 L595.20,659.48 L595.47,658.38 L595.74,657.26 L596.00,656.12 L596.27,654.96 L596.54,653.78 L596.81,652.58 L597.08,651.35 L597.35,650.11 L597.62,648.85 L597.89,647.57 L598.16,646.28 L598.42,644.97 L598.69,643.64 L598.96,642.29 L599.23,640.94 L599.50,639.56 L599.77,638.18 L600.04,636.78 L600.31,635.37 L600.58,633.95 L600.84,632.52 L601.11,631.07 L601.38,629.62 L601.65,628.16 L601.92,626.68 L602.19,625.20 L602.46,623.71 L602.73,622.22 L603.00,620.71 L603.27,619.20 L603.53,617.69 L603.80,616.16 L604.07,614.64 L604.34,613.10 L604.61,611.57 L604.88,610.03 L605.15,608.48 L605.42,606.93 L605.69,605.38 L605.95,603.83 L606.22,602.27 L606.49,600.71 L606.76,599.15 L606.76,599.15 L607.03,597.59 L607.30,596.02 L607.57,594.46 L607.84,592.89 L608.11,591.33 L608.38,589.76 L608.64,588.20 L608.91,586.63 L609.18,585.07 L609.45,583.50 L609.72,581.94 L609.99,580.38 L610.26,578.81 L610.53,577.26 L610.80,575.70 L611.06,574.14 L611.33,572.59 L611.60,571.03 L611.87,569.49 L612.14,567.94 L612.41,566.39 L612.68,564.85 L612.95,563.31 L613.22,561.78 L613.48,560.24 L613.75,558.71 L614.02,557.19 L614.29,555.66 L614.56,554.14 L614.83,552.62 L615.10,551.11 L615.37,549.60 L615.64,548.10 L615.91,546.60 L616.17,545.10 L616.44,543.60 L616.71,542.11 L616.98,540.63 L617.25,539.15 L617.52,537.67 L617.79,536.20 L618.06,534.73 L618.33,533.26 L618.59,531.80 L618.86,530.35 L618.86,530.35 L619.13,528.90 L619.40,527.45 L619.67,526.01 L619.94,524.57 L620.21,523.14 L620.21,523.14 L620.48,521.71 L620.75,520.29 L621.01,518.87 L621.28,517.45 L621.55,516.04 L621.82,514.64 L622.09,513.24 L622.36,511.84 L622.63,510.45 L622.90,509.07 L623.17,507.69 L623.44,506.31 L623.70,504.94 L623.97,503.57 L624.24,502.21 L624.51,500.85 L624.78,499.50 L625.05,498.15 L625.32,496.81 L625.59,495.47 L625.86,494.13 L626.12,492.80 L626.39,491.48 L626.66,490.16 L626.93,488.85 L627.20,487.54 L627.47,486.23 L627.74,484.93 L628.01,483.63 L628.28,482.34 L628.54,481.06 L628.81,479.77 L629.08,478.50 L629.35,477.22 L629.62,475.95 L629.89,474.69 L630.16,473.43 L630.43,472.18 L630.70,470.93 L630.97,469.68 L631.23,468.44 L631.50,467.21 L631.77,465.97 L632.04,464.75 L632.31,463.52 L632.58,462.31 L632.85,461.09 L633.12,459.88 L633.39,458.68 L633.65,457.48 L633.92,456.28 L634.19,455.09 L634.46,453.90 L634.73,452.72 L635.00,451.54 L635.27,450.36 L635.54,449.19 L635.81,448.03 L636.07,446.86 L636.34,445.71 L636.61,444.55 L636.88,443.40 L637.15,442.26 L637.42,441.12 L637.69,439.98 L637.96,438.84 L638.23,437.72 L638.50,436.59 L638.76,435.47 L639.03,434.35 L639.30,433.24 L639.57,432.13 L639.84,431.02 L640.11,429.92 L640.38,428.83 L640.38,428.83 L640.65,427.73 L640.92,426.64 L641.18,425.56 L641.45,424.47 L641.72,423.40 L641.99,422.32 L642.26,421.25 L642.53,420.18 L642.80,419.12 L643.07,418.06 L643.34,417.01 L643.60,415.95 L643.87,414.90 L644.14,413.86 L644.41,412.82 L644.68,411.78 L644.95,410.75 L645.22,409.72 L645.49,408.69 L645.76,407.66 L646.03,406.64 L646.29,405.63 L646.56,404.62 L646.83,403.61 L647.10,402.60 L647.37,401.60 L647.64,400.60 L647.91,399.60 L648.18,398.61 L648.45,397.62 L648.71,396.63 L648.98,395.65 L649.25,394.67 L649.52,393.69 L649.79,392.72 L650.06,391.75 L650.33,390.78 L650.60,389.82 L650.87,388.86 L651.13,387.90 L651.40,386.95 L651.67,386.00 L651.94,385.05 L652.21,384.11 L652.48,383.17 L652.75,382.23 L653.02,381.29 L653.29,380.36 L653.56,379.43 L653.82,378.50 L653.82,378.50 L654.09,377.58 L654.36,376.66 L654.63,375.74 L654.90,374.83 L655.17,373.92 L655.44,373.01 L655.71,372.10 L655.98,371.20 L656.24,370.30 L656.51,369.40 L656.78,368.51 L657.05,367.62 L657.32,366.73 L657.59,365.84 L657.86,364.96 L658.13,364.08 L658.40,363.20 L658.66,362.33 L658.93,361.46 L659.20,360.59 L659.47,359.72 L659.74,358.86 L660.01,358.00 L660.28,357.14 L660.55,356.28 L660.82,355.43 L661.09,354.58 L661.35,353.73 L661.62,352.88 L661.89,352.04 L662.16,351.20 L662.43,350.36 L662.70,349.53 L662.97,348.69 L663.24,347.86 L663.51,347.04 L663.77,346.21 L664.04,345.39 L664.31,344.57 L664.58,343.75 L664.85,342.93 L665.12,342.12 L665.39,341.31 L665.66,340.50 L665.93,339.70 L666.19,338.89 L666.46,338.09 L666.73,337.29 L667.00,336.50 L667.27,335.70 L667.54,334.91 L667.81,334.12 L668.08,333.33 L668.35,332.55 L668.62,331.77 L668.88,330.99 L669.15,330.21 L669.42,329.43 L669.69,328.66 L669.96,327.89 L671.30,324.06 L672.65,320.30 L673.99,316.58 L675.34,312.91 L676.68,309.30 L678.03,305.74 L679.37,302.22 L680.72,298.75 L682.06,295.33 L683.41,291.95 L684.75,288.62 L686.10,285.33 L687.44,282.09 L688.79,278.88 L690.13,275.72 L691.47,272.60 L692.82,269.52 L694.16,266.47 L695.51,263.47 L696.85,260.50 L698.20,257.56 L699.54,254.67 L700.89,251.81 L702.23,248.98 L703.58,246.19 L704.92,243.43 L706.27,240.71 L707.61,238.02 L708.95,235.36 L710.30,232.73 L711.64,230.13 L712.99,227.57 L714.33,225.03 L715.68,222.52 L717.02,220.05 L718.37,217.60 L719.71,215.18 L721.06,212.78 L722.40,210.42 L723.75,208.08 L725.09,205.77 L726.44,203.48 L727.78,201.23 L729.12,198.99 L730.47,196.79 L731.81,194.60 L733.16,192.45 L734.50,190.31 L735.85,188.20 L737.19,186.12 L738.54,184.06 L739.88,182.02 L741.23,180.00 L742.57,178.01 L743.92,176.04 L745.26,174.09 L746.61,172.16 L747.95,170.26 L749.29,168.38 L750.64,166.51 L751.98,164.67 L753.33,162.85 L754.67,161.05 L756.02,159.27 L757.36,157.51 L758.71,155.77 L760.05,154.05 L761.40,152.35 L762.74,150.66 L764.09,149.00 L765.43,147.35 L766.77,145.73 L768.12,144.12 L769.46,142.53 L770.81,140.96 L772.15,139.40 L773.50,137.86 L774.84,136.35 L776.19,134.84 L777.53,133.36 L778.88,131.89 L780.22,130.44 L781.57,129.00 L782.91,127.58 L784.26,126.18 L785.60,124.79 L786.94,123.42 L788.29,122.07 L789.63,120.73 L790.98,119.40 L792.32,118.09 L793.67,116.80 L795.01,115.52 L796.36,114.26 L797.70,113.01 L799.05,111.77 L800.39,110.55 L801.74,109.34 L803.08,108.15 L804.43,106.97 L805.77,105.81 L807.11,104.65 L808.46,103.52 L809.80,102.39 L811.15,101.28 L812.49,100.18 L813.84,99.09 L815.18,98.02 L816.53,96.96 L817.87,95.91 L819.22,94.88 L820.56,93.85 L821.91,92.84 L823.25,91.84 L824.59,90.85 L825.94,89.88 L827.28,88.91 L828.63,87.96 L829.97,87.02 L831.32,86.09 L832.66,85.17 L834.01,84.26 L835.35,83.37 L836.70,82.48 L838.04,81.60 L839.39,80.74 L840.73,79.88 L842.08,79.04 L843.42,78.21 L844.76,77.38 L846.11,76.57 L847.45,75.76 L848.80,74.97 L850.14,74.18 L851.49,73.41 L852.83,72.64 L854.18,71.88 L855.52,71.14 L856.87,70.40 L858.21,69.67 L859.56,68.95 L860.90,68.24 L862.24,67.53 L863.59,66.84 L864.93,66.15 L866.28,65.47 L867.62,64.80 L868.97,64.14 L870.31,63.49 L871.66,62.84 L873.00,62.21 L874.35,61.58 L875.69,60.95 L877.04,60.34 L878.38,59.73 L879.73,59.13 L881.07,58.54 L882.41,57.95 L883.76,57.38 L885.10,56.81 L886.45,56.24 L887.79,55.68 L889.14,55.13 L890.48,54.59 L891.83,54.05 L893.17,53.52 L894.52,53.00 L895.86,52.48 L897.21,51.97 L898.55,51.46 L899.90,50.96 L901.24,50.47 L902.58,49.98 L903.93,49.50 L905.27,49.03 L906.62,48.56 L907.96,48.09 L909.31,47.64 L910.65,47.18 L912.00,46.74 L913.34,46.29 L914.69,45.86 L916.03,45.42 L917.38,45.00 L918.72,44.58 L920.06,44.16 L921.41,43.75 L922.75,43.34 L924.10,42.94 L925.44,42.54 L926.79,42.15 L928.13,41.76 L929.48,41.38 L930.82,41.00 L932.17,40.63 L933.51,40.26 L934.86,39.89 L936.20,39.53 L937.55,39.17 L938.89,38.82" fill="none" stroke="#d95319" stroke-width="5" stroke-dasharray="18.1 18.23" stroke-dashoffset="0.6" stroke-linejoin="round"/>
<g font-family="Liberation Serif, serif" font-weight="bold" font-size="36" fill="#262626"><text x="118.3" y="34.8" text-anchor="end">0</text><text x="118.3" y="145.6" text-anchor="end">-4</text><text x="118.3" y="256.3" text-anchor="end">-8</text><text x="118.3" y="367.1" text-anchor="end">-12</text><text x="118.3" y="477.8" text-anchor="end">-16</text><text x="118.3" y="588.6" text-anchor="end">-20</text><text x="118.3" y="699.4" text-anchor="end">-24</text><text x="131.4" y="758.2" text-anchor="middle">2.5</text><text x="265.9" y="758.2" text-anchor="middle">3</text><text x="400.3" y="758.2" text-anchor="middle">3.5</text><text x="534.8" y="758.2" text-anchor="middle">4</text><text x="669.3" y="758.2" text-anchor="middle">4.5</text><text x="803.7" y="758.2" text-anchor="middle">5</text><text x="938.2" y="758.2" text-anchor="middle">5.5</text></g>
<text transform="translate(538.3,804.6) scale(0.972,1)" text-anchor="middle" font-family="Liberation Serif, serif" font-weight="bold" font-size="40" fill="#262626">Frequency (GHz)</text>
<g transform="rotate(-90)" font-family="Liberation Serif, serif" fill="#262626">
<text x="-444.25" y="38.5" font-size="40">|</text>
<text x="-420.77" y="38.6" font-size="40" stroke="#262626" stroke-width="0.8" transform="scale(1.04,1)">S</text>
<text x="-414" y="56.4" font-size="31.5" stroke="#262626" stroke-width="0.6">21</text>
<text x="-380.4" y="38.5" font-size="40">|</text>
<text x="-362.2" y="37.7" font-size="39" font-weight="bold">(dB)</text>
</g>
<line x1="304.7" y1="53.6" x2="380.3" y2="53.6" stroke="#0072bd" stroke-width="5"/>
<line x1="304.7" y1="96.55" x2="380.3" y2="96.55" stroke="#d95319" stroke-width="5" stroke-dasharray="18.2 18.1"/>
<g font-family="Liberation Serif, serif" font-weight="bold" font-size="37.5" fill="#000"><text x="386.2" y="67.2">Calibrated</text><text x="386.2" y="109.9">Lumped</text></g>
</g>
</svg></body></html>
